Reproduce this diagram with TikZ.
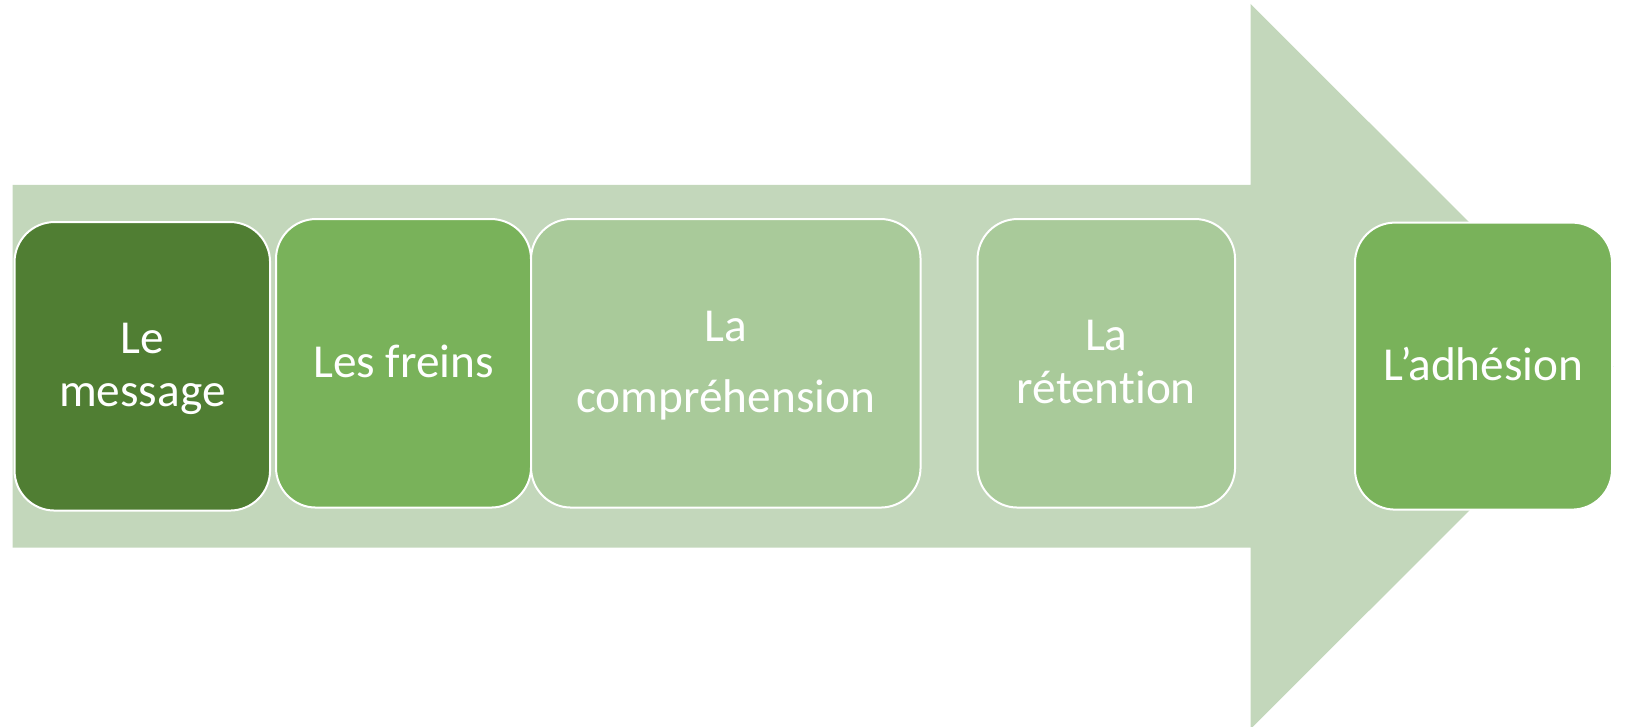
\documentclass[tikz,border=0pt]{standalone}
\usepackage{fontspec}
\setmainfont{Carlito}[Ligatures={NoCommon}]
% line strut: fixed height/depth so every label sits the same way in its box
\newcommand\lstrut{\rule[-8pt]{0pt}{44pt}}
\definecolor{arrowgreen}{HTML}{C3D7BB}
\definecolor{darkgreen}{HTML}{507E33}
\definecolor{midgreen}{HTML}{79B25A}
\definecolor{palegreen}{HTML}{A9CA9A}
\begin{document}
\begin{tikzpicture}[x=1pt,y=-1pt,
  stage/.style={rounded corners=40pt, draw=white, line width=2pt,
    text=white, align=center, inner sep=0pt, minimum height=288.5pt,
    font={\fontsize{47.3pt}{52.7pt}\selectfont}},
  widelines/.style={font={\fontsize{47.3pt}{71pt}\selectfont}}]
\useasboundingbox (0,0) rectangle (1631,727);

% big block arrow behind the stages
\fill[arrowgreen] (12.7,185) -- (1250.7,185) -- (1250.7,4) -- (1613.3,366.5)
  -- (1250.7,729) -- (1250.7,547.7) -- (12.7,547.7) -- cycle;

% the five stages
\node[stage, fill=darkgreen, minimum width=255.5pt] (b1) at (142.3,366.3)
  {\lstrut Le\\\lstrut message};
\node[stage, fill=midgreen, minimum width=255pt] (b2) at (403.5,363.3)
  {\lstrut Les freins};
\node[stage, widelines, fill=palegreen, minimum width=389.5pt] (b3) at (725.8,363.3)
  {\lstrut La\\\lstrut compréhension};
\node[stage, fill=palegreen, minimum width=257.5pt] (b4) at (1106.3,363.3)
  {\lstrut La\\\lstrut rétention};
\node[stage, fill=midgreen, minimum width=257pt, minimum height=287pt] (b5) at (1483.5,366.1)
  {\lstrut L’adhésion};
\end{tikzpicture}
\end{document}
